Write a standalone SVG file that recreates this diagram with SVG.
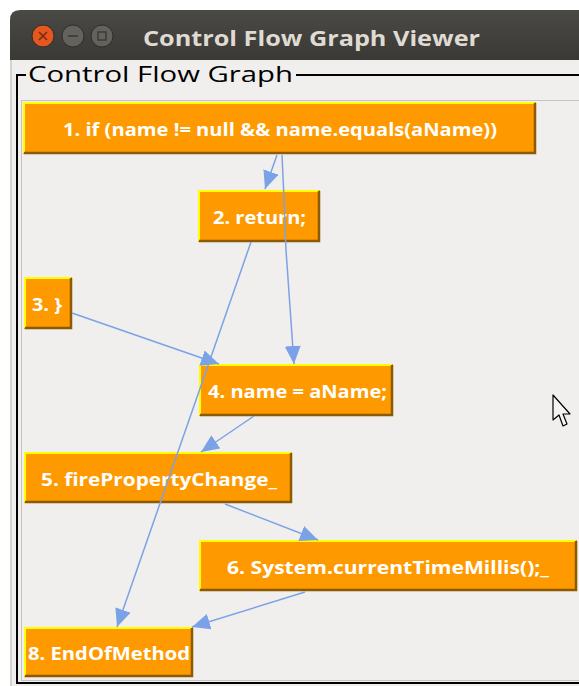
<svg xmlns="http://www.w3.org/2000/svg" width="579" height="686" viewBox="0 0 579 686">
<defs>
<style>
.node rect{fill:#ff9900}
.hl{fill:none;stroke:#ffff00;stroke-width:2}
.sh{fill:none;stroke:#8c5a00;stroke-width:2.5}
.lbl{font-family:"Open Sans","DejaVu Sans",sans-serif;font-weight:bold;font-size:18px;fill:#ffffff;text-anchor:middle}
.edge{fill:none;stroke:#7ba2e6;stroke-width:1.5;marker-end:url(#arr)}
</style>
<marker id="arr" markerUnits="userSpaceOnUse" markerWidth="18" markerHeight="16" refX="18" refY="8" orient="auto" viewBox="0 0 18 16">
<path d="M0,0 L18,8 L0,16 z" fill="#7ba2e6"/>
</marker>
<linearGradient id="tb" x1="0" y1="0" x2="0" y2="1">
<stop offset="0" stop-color="#4a4945"/>
<stop offset="1" stop-color="#3a3935"/>
</linearGradient>
</defs>
<rect width="579" height="686" fill="#ffffff"/>
<g id="window">
<path d="M10,60 L10,20 Q10,10 20,10 L579,10 L579,60 Z" fill="url(#tb)"/>
<rect x="10" y="60" width="569" height="626" fill="#f0efed"/>
<line x1="11" y1="60" x2="11" y2="686" stroke="#b8b7b3" stroke-width="1"/>
<circle cx="43" cy="36" r="11" fill="#e4571f" stroke="#2e2d2a" stroke-width="1"/>
<path d="M39,32 L47,40 M47,32 L39,40" stroke="#7a2a0c" stroke-width="1.6"/>
<circle cx="73" cy="36" r="11" fill="#63625d" stroke="#2e2d2a" stroke-width="1"/>
<line x1="68" y1="36" x2="78" y2="36" stroke="#3a3935" stroke-width="1.6"/>
<circle cx="102" cy="36" r="11" fill="#63625d" stroke="#2e2d2a" stroke-width="1"/>
<rect x="98" y="32" width="8" height="8" fill="none" stroke="#3a3935" stroke-width="1.4"/>
<text x="143" y="46" font-family="'Open Sans','DejaVu Sans',sans-serif" font-weight="bold" font-size="22" fill="#dfdbd2" textLength="337" lengthAdjust="spacingAndGlyphs">Control Flow Graph Viewer</text>
</g>
<g id="border">
<path d="M26,75 L17,75 L17,683 L579,683" fill="none" stroke="#000" stroke-width="2"/>
<line x1="296" y1="75" x2="579" y2="75" stroke="#000" stroke-width="2"/>
<text x="28" y="82" font-family="'Open Sans','DejaVu Sans',sans-serif" font-size="21" fill="#000" textLength="265" lengthAdjust="spacingAndGlyphs">Control Flow Graph</text>
<rect x="21.5" y="100.5" width="560" height="580" fill="#f0efed" stroke="#c4c3c0" stroke-width="1"/>
</g>
<g id="n1" class="node">
<rect x="23" y="102" width="513" height="52"/>
<polyline class="hl" points="24,153 24,103 535,103"/>
<polyline class="sh" points="24,153 535,153 535,103"/>
<text class="lbl" x="280" y="136" textLength="434" lengthAdjust="spacingAndGlyphs">1. if (name != null &amp;&amp; name.equals(aName))</text>
</g>
<g id="n2" class="node">
<rect x="198" y="190" width="122" height="52"/>
<polyline class="hl" points="199,241 199,191 319,191"/>
<polyline class="sh" points="199,241 319,241 319,191"/>
<text class="lbl" x="259.5" y="224" textLength="93" lengthAdjust="spacingAndGlyphs">2. return;</text>
</g>
<g id="n3" class="node">
<rect x="24" y="277" width="48" height="52"/>
<polyline class="hl" points="25,328 25,278 71,278"/>
<polyline class="sh" points="25,328 71,328 71,278"/>
<text class="lbl" x="47" y="311" textLength="30" lengthAdjust="spacingAndGlyphs">3. }</text>
</g>
<g id="n4" class="node">
<rect x="199" y="364" width="194" height="52"/>
<polyline class="hl" points="200,415 200,365 392,365"/>
<polyline class="sh" points="200,415 392,415 392,365"/>
<text class="lbl" x="297.5" y="398" textLength="179" lengthAdjust="spacingAndGlyphs">4. name = aName;</text>
</g>
<g id="n5" class="node">
<rect x="24" y="452" width="268" height="51"/>
<polyline class="hl" points="25,502 25,453 291,453"/>
<polyline class="sh" points="25,502 291,502 291,453"/>
<text class="lbl" x="159" y="486" textLength="236" lengthAdjust="spacingAndGlyphs">5. firePropertyChange_</text>
</g>
<g id="n6" class="node">
<rect x="199" y="540" width="378" height="51"/>
<polyline class="hl" points="200,590 200,541 576,541"/>
<polyline class="sh" points="200,590 576,590 576,541"/>
<text class="lbl" x="388" y="574" textLength="322" lengthAdjust="spacingAndGlyphs">6. System.currentTimeMillis();_</text>
</g>
<g id="n8" class="node">
<rect x="24" y="627" width="169" height="50"/>
<polyline class="hl" points="25,676 25,628 192,628"/>
<polyline class="sh" points="25,676 192,676 192,628"/>
<text class="lbl" x="109" y="660" textLength="162" lengthAdjust="spacingAndGlyphs">8. EndOfMethod</text>
</g>
<g id="connectors">
<line class="edge" x1="277" y1="155" x2="265" y2="189"/>
<polyline class="edge" points="282,155 284,198 286,250 294,364"/>
<line class="edge" x1="251" y1="242" x2="117" y2="627"/>
<line class="edge" x1="72" y1="313" x2="219" y2="364"/>
<line class="edge" x1="254" y1="416" x2="201" y2="452"/>
<line class="edge" x1="225" y1="504" x2="318" y2="540"/>
<line class="edge" x1="305" y1="592" x2="192" y2="627"/>
</g>
<g id="cursor">
<path d="M553,395 L553,420 L559,415 L563,426 L567,424 L563,414 L570,414 Z" fill="#f4f4f4" stroke="#000" stroke-width="1.2" stroke-linejoin="round"/>
</g>
</svg>
